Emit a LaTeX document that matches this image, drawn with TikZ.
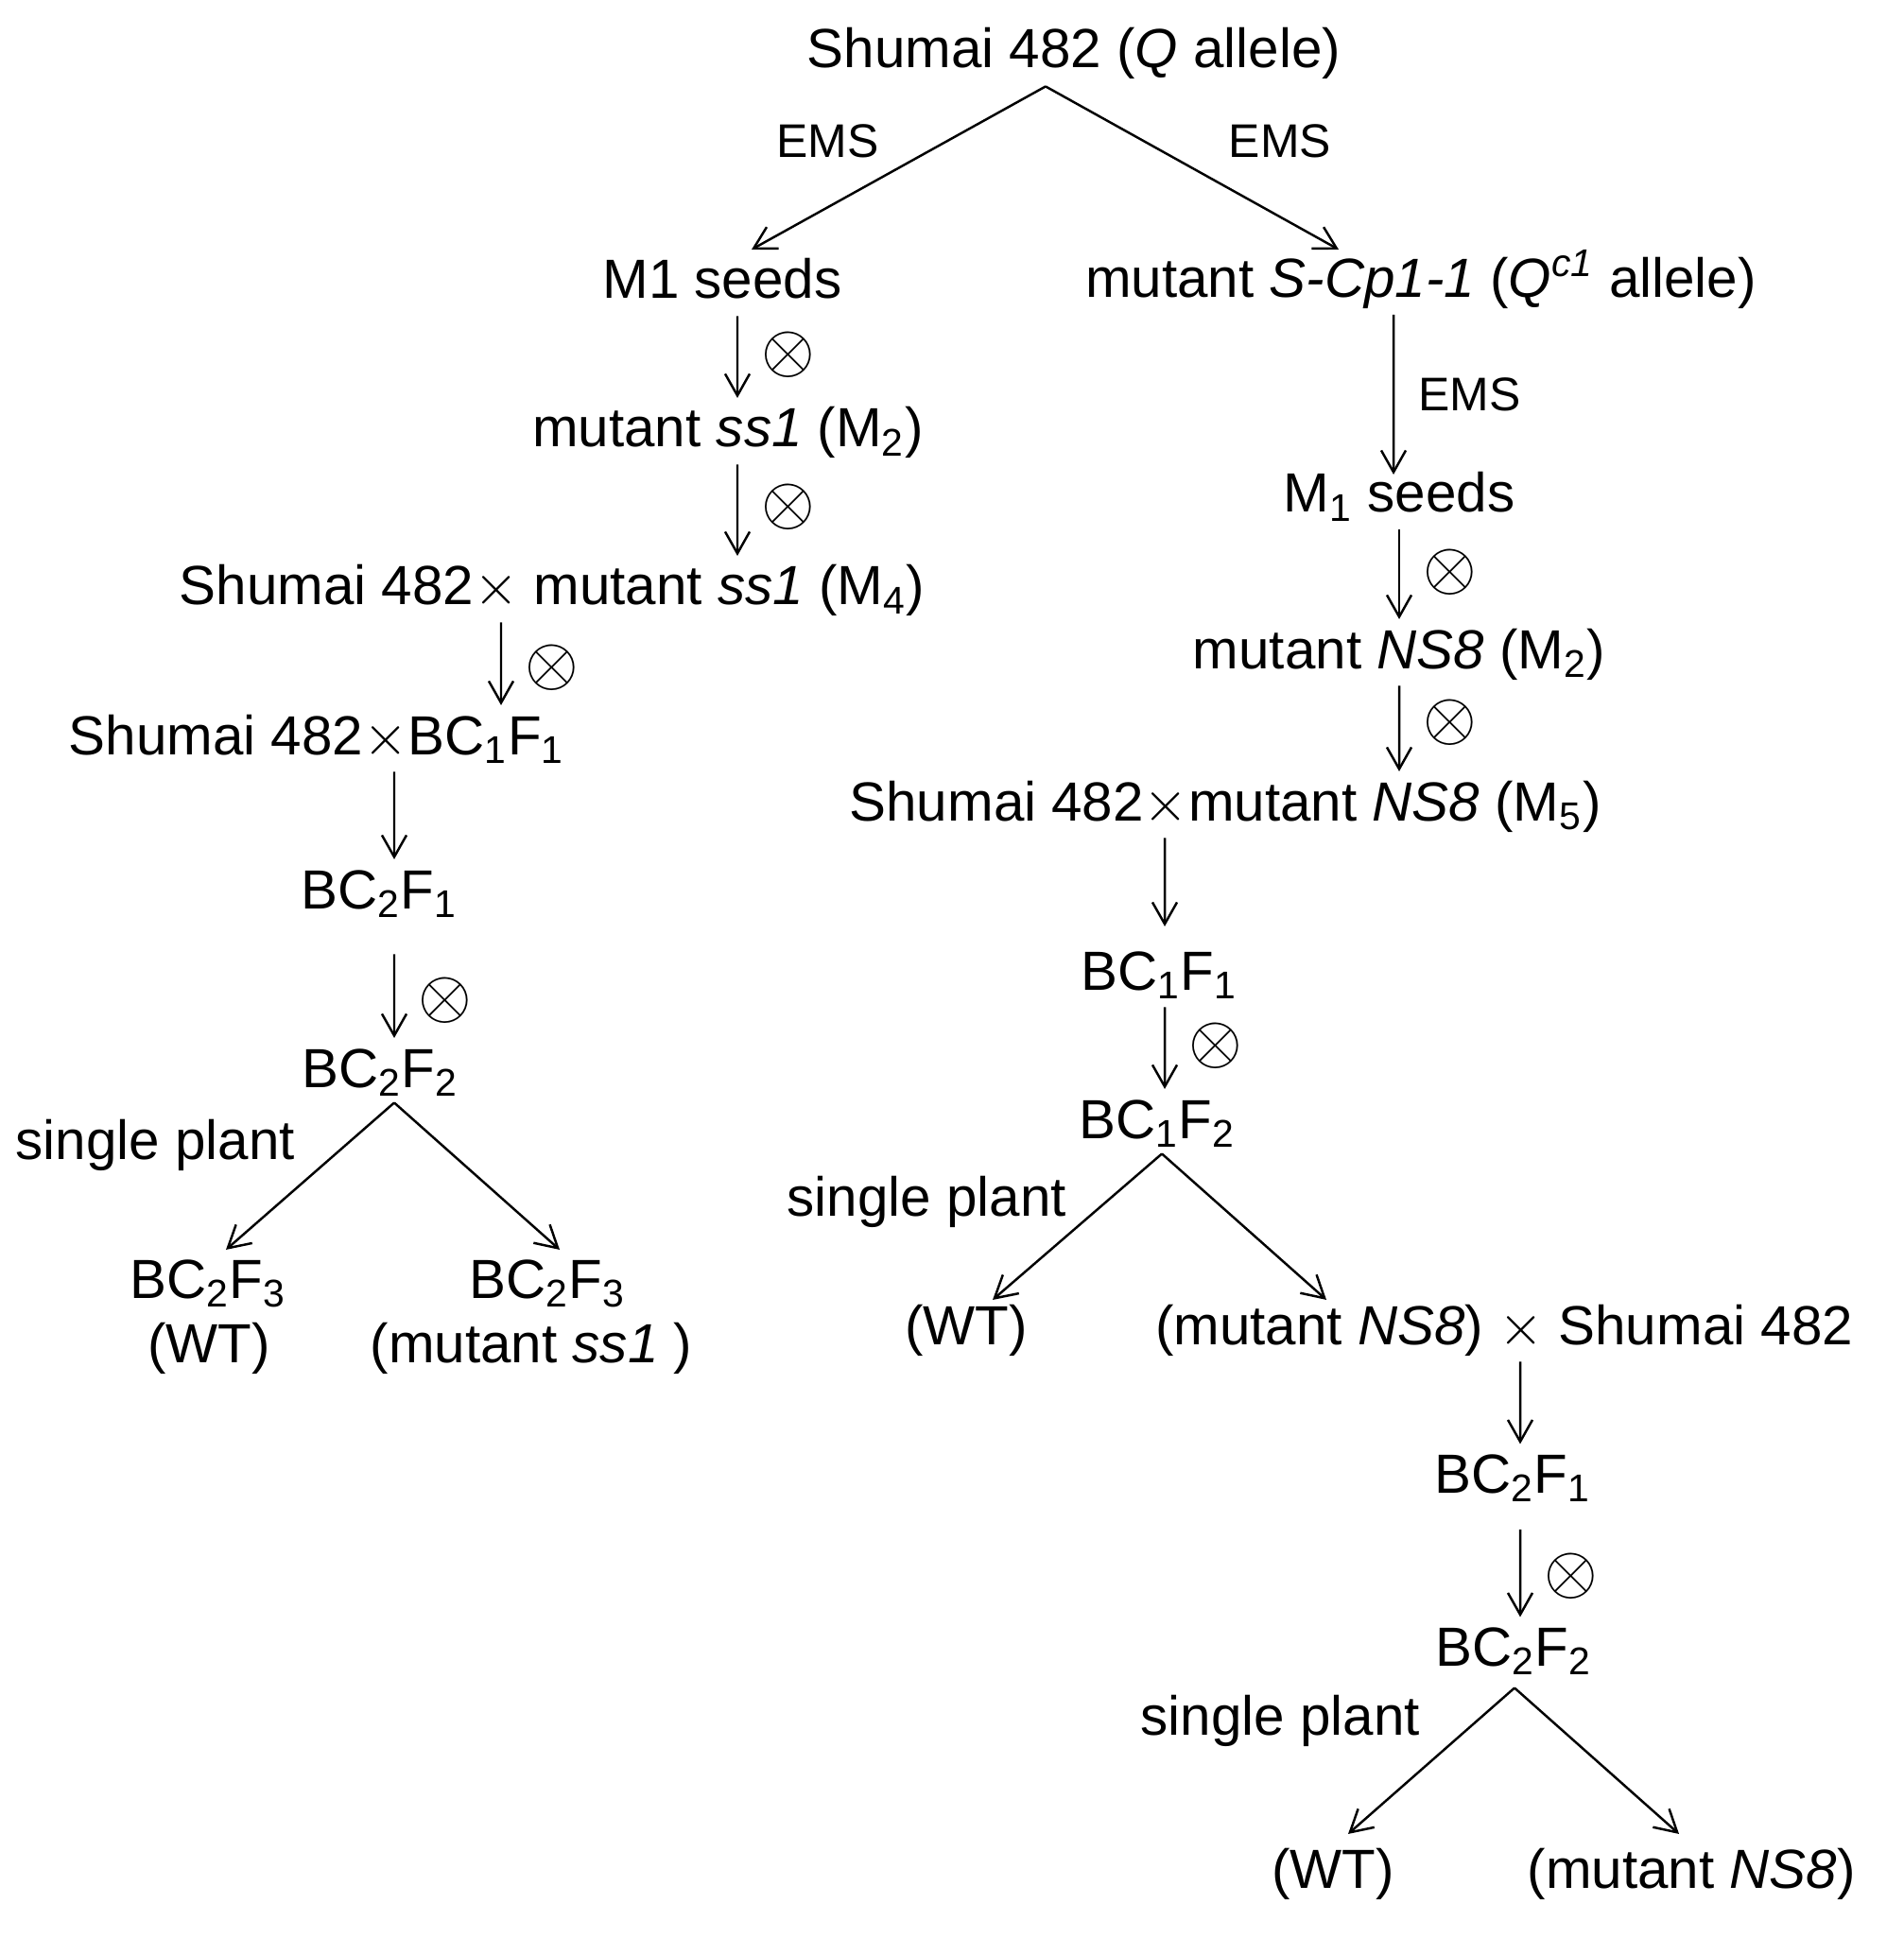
\documentclass[tikz,border=0pt]{standalone}
\usepackage{fontspec}
\setmainfont{Liberation Sans}
\usetikzlibrary{arrows.meta, positioning}

\begin{document}
\begin{tikzpicture}[
  lbl/.style={inner sep=0pt, anchor=base, text height=0.75em, text depth=0.22em, font=\fontsize{16.6}{20}\selectfont},
  ems/.style={inner sep=0pt, font=\fontsize{14.2}{17}\selectfont},
  fork/.style={-{Straight Barb[length=2.3mm, width=2.6mm]}, line width=0.7pt},
  arr/.style={fork, shorten <=1mm, shorten >=2.5mm},
  self/.style={right, pos=0.42, inner sep=0pt, xshift=2.4mm, font=\fontsize{21}{24}\selectfont},
]
  \useasboundingbox (0,0) rectangle (20.13,-20.68);

  % left branch
  \node[lbl] (top) at (11.36,-0.72) {Shumai 482 (\textit{Q} allele)};
  \node[lbl] (m1l) at (7.64,-3.16) {M1 seeds};
  \node[lbl] (ss1) at (7.70,-4.73) {mutant \textit{ss1} (M\textsubscript{2})};
  \node[lbl] (cross1) at (5.84,-6.40) {Shumai 482$\times$ mutant \textit{ss1} (M\textsubscript{4})};
  \node[lbl] (cross2) at (3.35,-7.98) {Shumai 482$\times$BC\textsubscript{1}F\textsubscript{1}};
  \node[lbl] (bc2f1l) at (4.01,-9.61) {BC\textsubscript{2}F\textsubscript{1}};
  \node[lbl] (bc2f2l) at (4.02,-11.50) {BC\textsubscript{2}F\textsubscript{2}};
  \node[lbl, anchor=base west] (sp1) at (0.16,-12.26) {single plant};
  \node[lbl] (bc2f3a) at (2.20,-13.73) {BC\textsubscript{2}F\textsubscript{3}};
  \node[lbl] (wta) at (2.21,-14.41) {(WT)};
  \node[lbl] (bc2f3b) at (5.79,-13.73) {BC\textsubscript{2}F\textsubscript{3}};
  \node[lbl] (mss1) at (5.62,-14.41) {(mutant \textit{ss1} )};

  % right branch
  \node[lbl] (scp) at (15.03,-3.145) {mutant \textit{S-Cp1-1} (\textit{Q\textsuperscript{c1}} allele)};
  \node[lbl] (m1r) at (14.80,-5.42) {M\textsubscript{1} seeds};
  \node[lbl] (ns8a) at (14.80,-7.07) {mutant \textit{NS8} (M\textsubscript{2})};
  \node[lbl] (cross3) at (12.96,-8.68) {Shumai 482$\times$mutant \textit{NS8} (M\textsubscript{5})};
  \node[lbl] (bc1f1) at (12.26,-10.47) {BC\textsubscript{1}F\textsubscript{1}};
  \node[lbl] (bc1f2) at (12.24,-12.04) {BC\textsubscript{1}F\textsubscript{2}};
  \node[lbl, anchor=base west] (sp2) at (8.32,-12.86) {single plant};
  \node[lbl] (wtb) at (10.22,-14.22) {(WT)};
  \node[lbl] (cross4) at (15.91,-14.22) {(mutant \textit{NS8}) $\times$ Shumai 482};
  \node[lbl] (bc2f1r) at (16.00,-15.795) {BC\textsubscript{2}F\textsubscript{1}};
  \node[lbl] (bc2f2r) at (16.01,-17.625) {BC\textsubscript{2}F\textsubscript{2}};
  \node[lbl, anchor=base west] (sp3) at (12.06,-18.35) {single plant};
  \node[lbl] (wtc) at (14.10,-19.97) {(WT)};
  \node[lbl] (mns8) at (17.89,-19.97) {(mutant \textit{NS8})};

  % forks
  \coordinate (f1) at ([xshift=-3mm, yshift=-1.1mm]top.south);
  \draw[fork] (f1) -- node[ems, above left, xshift=-2mm, yshift=0.9mm] {EMS} ([xshift=3.1mm, yshift=2.5mm]m1l.north);
  \draw[fork] (f1) -- node[ems, above right, xshift=3.75mm, yshift=0.9mm] {EMS} ([xshift=-8.7mm, yshift=2.35mm]scp.north);
  \coordinate (f2) at ([xshift=1.5mm, yshift=-0.8mm]bc2f2l.south);
  \draw[fork] (f2) -- ([xshift=1.9mm, yshift=2.4mm]bc2f3a.north);
  \draw[fork] (f2) -- ([xshift=1.3mm, yshift=2.4mm]bc2f3b.north);
  \coordinate (f3) at ([xshift=0.5mm, yshift=-0.8mm]bc1f2.south);
  \draw[fork] (f3) -- ([xshift=2.8mm, yshift=2mm]wtb.north);
  \draw[fork] (f3) -- ([xshift=-18.8mm, yshift=2mm]cross4.north);
  \coordinate (f4) at ([xshift=0.1mm, yshift=-1.45mm]bc2f2r.south);
  \draw[fork] (f4) -- ([xshift=1.6mm, yshift=3mm]wtc.north);
  \draw[fork] (f4) -- ([xshift=-1.3mm, yshift=3mm]mns8.north);

  % vertical steps
  \draw[arr] ([xshift=1.6mm]m1l.south) -- node[self] {$\otimes$} ([xshift=1mm]ss1.north);
  \draw[arr] ([xshift=1mm]ss1.south) -- node[self] {$\otimes$} ([xshift=19.6mm]cross1.north);
  \draw[arr] ([xshift=-5.4mm]cross1.south) -- node[self, pos=0.47] {$\otimes$} ([xshift=19.5mm]cross2.north);
  \draw[arr] ([xshift=8.2mm]cross2.south) -- ([xshift=1.6mm]bc2f1l.north);
  \draw[arr, shorten <=4mm] ([xshift=1.6mm]bc2f1l.south) -- node[self, pos=0.58] {$\otimes$} ([xshift=1.5mm]bc2f2l.north);
  \draw[arr, shorten >=1.3mm] ([xshift=-2.9mm]scp.south) -- node[ems, right, pos=0.49, xshift=2.5mm] {EMS} ([xshift=-0.6mm]m1r.north);
  \draw[arr] (m1r.south) -- node[self] {$\otimes$} (ns8a.north);
  \draw[arr] (ns8a.south) -- node[self, pos=0.39] {$\otimes$} ([xshift=18.4mm]cross3.north);
  \draw[arr, shorten >=4mm] ([xshift=-6.4mm]cross3.south) -- ([xshift=0.6mm]bc1f1.north);
  \draw[arr] ([xshift=0.6mm]bc1f1.south) -- node[self] {$\otimes$} ([xshift=0.8mm]bc1f2.north);
  \draw[arr] ([xshift=1.7mm]cross4.south) -- ([xshift=0.8mm]bc2f1r.north);
  \draw[arr, shorten <=3mm] ([xshift=0.8mm]bc2f1r.south) -- node[self, pos=0.54] {$\otimes$} ([xshift=0.7mm]bc2f2r.north);
\end{tikzpicture}
\end{document}
